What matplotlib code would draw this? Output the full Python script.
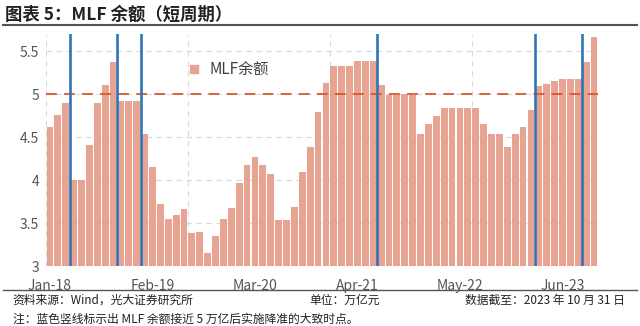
import pandas as pd
import matplotlib.pyplot as plt
from matplotlib.lines import Line2D

plt.rcParams['font.family'] = ['Noto Sans CJK SC', 'DejaVu Sans']

# -------- DATA --------
months = pd.date_range("2018-01-01", "2023-10-01", freq="MS")
mlf = [4.62, 4.76, 4.90, 4.00, 4.00, 4.41, 4.90, 5.10, 5.37, 4.92,
       4.92, 4.92, 4.53, 4.15, 3.72, 3.55, 3.59, 3.66, 3.38, 3.39,
       3.15, 3.35, 3.55, 3.67, 3.97, 4.17, 4.27, 4.17, 4.07, 3.53,
       3.53, 3.69, 4.09, 4.39, 4.79, 5.13, 5.33, 5.33, 5.33, 5.39,
       5.39, 5.39, 5.10, 4.99, 4.99, 5.00, 4.99, 4.53, 4.65, 4.74,
       4.84, 4.84, 4.84, 4.84, 4.84, 4.65, 4.53, 4.53, 4.39, 4.53,
       4.62, 4.81, 5.09, 5.12, 5.15, 5.17, 5.17, 5.17, 5.37, 5.66]
# months when the RRR was cut (blue lines)
rrr_cuts = ["2018-04", "2018-10", "2019-01", "2021-07", "2023-03", "2023-09"]
threshold = 5.0
labels = [m.strftime("%b-%y") for m in months]
# ----------------------

bar_color = "#E8A493"
blue = "#2E75B6"
red = "#D9582F"
txt = "#404040"

fig = plt.figure(figsize=(6.4, 3.26), dpi=100)
ax = fig.add_axes([0.0719, 0.184, 0.8624, 0.712])

x = list(range(len(mlf)))
ax.bar(x, mlf, width=0.86, color=bar_color, zorder=2)

ax.set_xlim(-0.5, len(mlf) - 0.5)
ax.set_ylim(3, 5.7)
ax.set_yticks([3, 3.5, 4, 4.5, 5, 5.5])
ax.set_yticklabels(["3", "3.5", "4", "4.5", "5", "5.5"])
ax.set_xticks(x[::13])
ax.set_xticklabels(labels[::13])
ax.tick_params(length=0, labelsize=10, colors="#555555")
ax.tick_params(axis="x", pad=9)
ax.tick_params(axis="y", pad=5)

ax.grid(axis="y", color="#D9D9D9", ls=(0, (5, 4)), lw=0.8, zorder=0)
for g in range(0, len(mlf), 18):
    ax.axvline(g - 0.5, color="#D9D9D9", ls=(0, (5, 4)), lw=0.8, zorder=0)

for s in ax.spines.values():
    s.set_visible(False)

ax.axhline(threshold, color=red, ls=(0, (6, 4)), lw=1.3, zorder=3)

for c in rrr_cuts:
    i = list(months.strftime("%Y-%m")).index(c)
    ax.axvline(i - 0.5, color=blue, lw=1.9, zorder=4)

h = Line2D([], [], marker="s", ls="", color=bar_color, markersize=6)
ax.legend([h], ["MLF余额"], loc="upper left", bbox_to_anchor=(0.215, 0.94),
          frameon=False, fontsize=11, handletextpad=0.05, labelcolor=txt)

# title + rules
fig.text(0.008, 0.955, "图表 5：MLF 余额（短周期）", fontsize=12.5, fontweight="bold",
         color="#222222", va="center")
fig.add_artist(Line2D([0.005, 0.995], [0.922, 0.922], color="#555555", lw=1.5))
fig.add_artist(Line2D([0.005, 0.995], [0.110, 0.110], color="#555555", lw=1.0))

fig.text(0.02, 0.080, "资料来源：Wind，光大证券研究所", fontsize=8.5, color="#222222", va="center")
fig.text(0.484, 0.080, "单位：万亿元", fontsize=8.5, color="#222222", va="center")
fig.text(0.977, 0.080, "数据截至：2023 年 10 月 31 日", fontsize=8.5, color="#222222",
         va="center", ha="right")
fig.text(0.02, 0.022, "注：蓝色竖线标示出 MLF 余额接近 5 万亿后实施降准的大致时点。",
         fontsize=8.5, color="#222222", va="center")

fig.savefig("out.png", dpi=100)
